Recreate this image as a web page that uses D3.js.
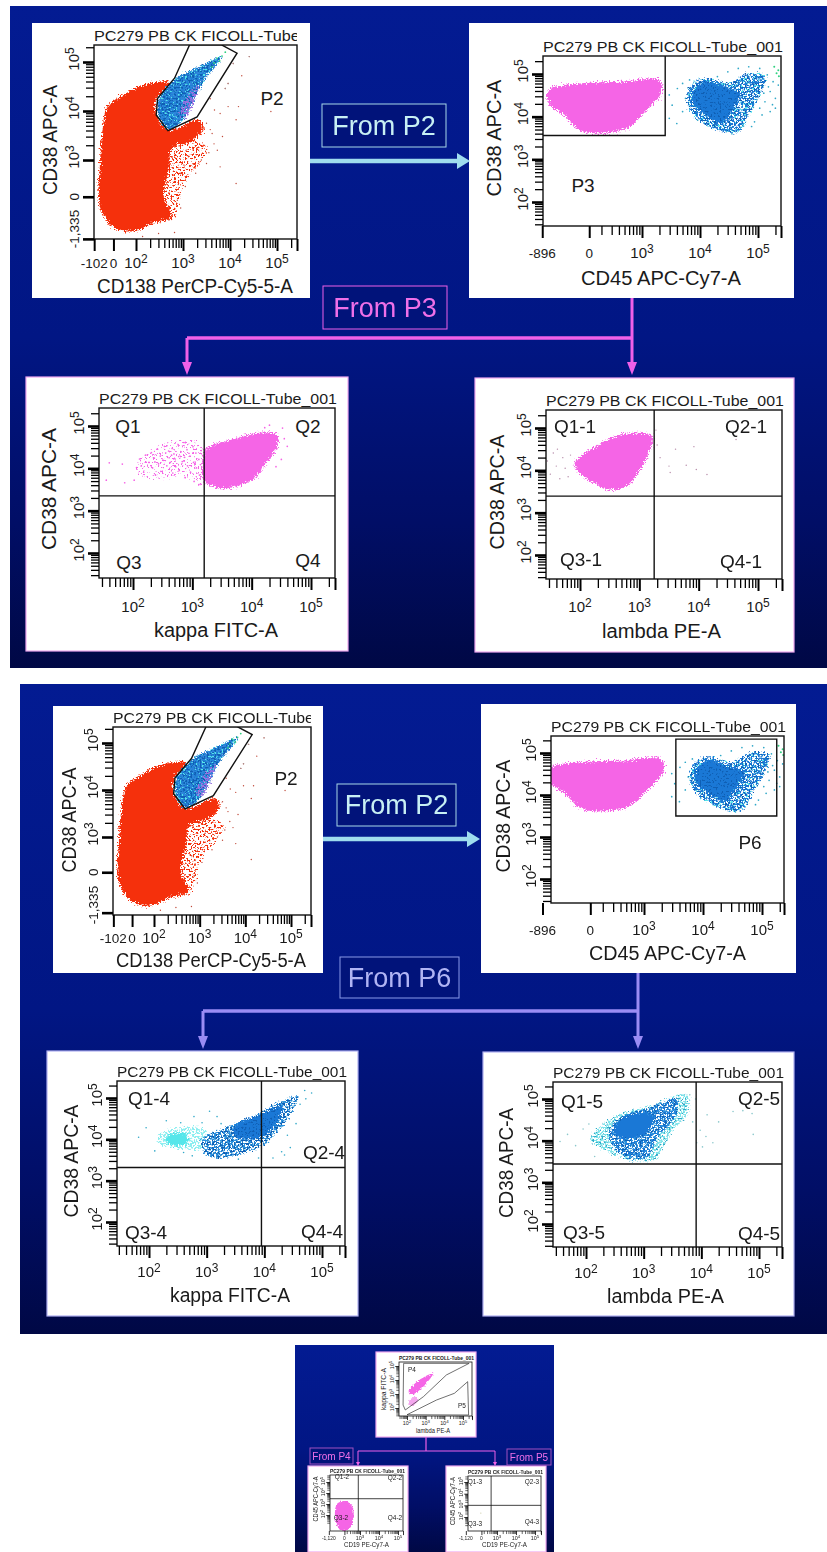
<!DOCTYPE html>
<html><head><meta charset="utf-8">
<script src="https://cdn.jsdelivr.net/npm/d3@7"></script>
<style>html,body{margin:0;padding:0;background:#fff;overflow:hidden}svg{display:block}text{font-family:"Liberation Sans",Arial,sans-serif;fill:#1a1a1a}</style>
</head><body><svg id="c" width="827" height="1552"></svg>
<script>
// ---- values; all in log10 decades of the axis value ----
const titleText = "PC279 PB CK FICOLL-Tube_001";
const decades = [2, 3, 4, 5];
const minorFactors = [2, 3, 4, 5, 6, 7, 8, 9];

const redCloud = [[1.74,4.33],[2.14,4.53],[2.71,4.58],[2.42,4.22],[2.48,3.82],[2.71,3.61],[3.33,3.82],[3.44,3.65],[3.16,3.37],[2.76,3.24],[2.71,2.86],[2.59,2.25],[2.76,1.84],[2.36,1.71],[1.91,1.54],[1.51,1.64],[1.23,2.05],[1.23,2.86],[1.28,3.54],[1.40,4.09]];
const redHaze = [[2.7,3.35],[3.2,3.40],[3.52,3.25],[3.35,2.92],[3.05,2.55],[2.90,2.05],[2.75,1.75],[2.50,2.40],[2.60,3.00]];
const p2Gate = [[3.14,5.35],[3.82,5.35],[4.15,5.18],[3.30,3.88],[2.68,3.60],[2.43,3.92],[2.46,4.26],[2.82,4.67]];
const p2Blue = [[3.82,5.11],[3.67,4.90],[3.44,4.63],[3.22,4.22],[2.99,3.82],[2.68,3.63],[2.48,3.92],[2.50,4.26],[2.82,4.63],[3.05,4.77],[3.44,4.94]];
const p2Purple = [[3.35,4.55],[3.28,4.30],[3.05,3.85],[2.92,3.95],[3.12,4.35]];
const p2Green = [[3.72,5.08],[3.83,5.12],[3.90,5.20],[3.78,5.02],[3.66,4.98],[3.62,4.90]];
const p2Sparse = [[4.07,4.97],[4.41,5.11],[3.96,4.56],[3.90,4.46],[4.87,3.99],[4.18,4.09],[3.96,4.09],[3.79,3.95],[3.67,4.02],[3.50,3.75],[3.62,3.54],[3.84,3.48],[3.73,3.20],[3.33,3.20],[3.39,3.00],[3.50,2.93],[3.79,2.86],[4.13,2.52],[3.27,2.73],[3.05,2.46],[2.88,2.18],[2.71,1.78],[2.48,1.50],[2.14,1.44],[4.25,4.72],[3.58,4.25],[4.13,3.82],[3.55,3.15],[3.12,3.08],[3.22,2.92],[2.95,2.72],[2.90,2.50],[3.58,3.62],[3.66,3.33],[3.02,2.90],[2.82,2.60],[2.95,2.02],[2.82,1.52]];
const pinkWide = [[1.42,4.66],[1.92,4.78],[2.65,4.82],[3.29,4.86],[3.34,4.59],[3.06,4.12],[2.74,3.73],[2.29,3.61],[1.92,3.69],[1.65,4.04],[1.42,4.27],[1.36,4.47]];
const cd45Halo = [[3.84,4.74],[4.11,4.90],[4.48,4.78],[4.84,5.02],[5.12,4.94],[5.03,4.51],[4.84,4.04],[4.66,3.65],[4.39,3.65],[4.02,3.88],[3.79,4.27]];
const cd45Core = [[3.90,4.62],[4.12,4.82],[4.46,4.68],[4.70,4.55],[4.55,4.15],[4.38,3.85],[4.10,4.05],[3.88,4.30]];
const cd45Sparse = [[3.47,4.51],[3.61,4.66],[3.52,4.27],[3.70,4.12],[3.47,3.96],[3.75,4.43],[3.70,4.78],[5.03,5.13],[5.16,4.98],[5.26,4.82],[5.07,4.74],[5.21,4.59],[5.30,4.43],[5.12,4.35],[5.03,4.20],[5.21,4.12],[4.94,3.88],[5.07,4.04],[4.66,5.13],[4.84,5.17],[4.48,5.05],[4.30,4.94],[5.30,4.20],[5.35,4.74],[4.89,3.77],[4.96,4.78],[5.18,4.70],[5.25,4.28],[4.98,4.40],[5.10,4.55],[4.92,4.22],[4.75,3.78],[4.55,3.60],[3.96,3.92],[3.60,3.84],[3.82,4.86]];
const cd45Green = [[5.28,5.17],[5.35,5.09],[5.32,5.02],[5.36,4.95]];
const kappaPink = [[3.22,4.45],[3.67,4.68],[4.12,4.84],[4.43,4.80],[4.43,4.52],[4.21,4.05],[4.03,3.74],[3.67,3.55],[3.40,3.55],[3.18,3.74],[3.18,4.13]];
const kappaHaze = [[2.05,4.05],[2.45,4.52],[3.10,4.62],[3.25,3.60],[2.85,3.78],[2.25,3.75]];
const kappaSparse = [[1.55,3.72],[1.60,4.13],[1.82,4.10],[1.86,3.66],[2.02,3.72],[2.06,4.02],[2.11,4.22],[2.14,4.06],[2.21,4.31],[2.18,3.91],[2.27,4.14],[2.31,4.37],[2.33,4.01],[2.36,4.24],[2.38,3.84],[2.41,4.46],[2.43,4.11],[2.46,4.29],[2.47,3.93],[2.51,4.19],[2.53,4.52],[2.55,4.36],[2.57,4.06],[2.60,4.41],[2.61,4.25],[2.63,4.14],[2.65,4.31],[2.66,4.47],[2.67,3.89],[2.69,4.34],[2.71,4.22],[2.72,4.04],[2.76,4.56],[2.77,4.28],[2.78,3.95],[2.81,4.39],[2.83,4.16],[2.86,4.61],[2.87,4.26],[2.88,3.78],[2.91,4.44],[2.92,4.06],[2.96,4.29],[2.97,3.91],[3.01,4.51],[3.02,4.14],[3.03,3.69],[3.06,4.36],[3.07,4.01],[3.11,4.21],[3.12,3.84],[3.13,3.62],[3.15,4.42],[3.16,4.03],[4.55,4.70],[4.60,4.52],[4.50,4.21],[4.41,4.04],[4.52,4.95],[4.22,4.96],[4.30,5.02]];
const lambdaPink = [[1.91,4.18],[2.27,4.57],[2.71,4.85],[3.21,4.81],[3.16,4.42],[2.98,3.94],[2.80,3.63],[2.49,3.54],[2.22,3.71],[1.96,3.98]];
const lambdaSparse = [[1.45,4.22],[1.50,3.91],[1.55,4.41],[1.60,4.10],[1.66,3.80],[1.71,4.30],[1.75,4.05],[1.80,3.85],[1.84,4.36],[1.62,4.50],[3.61,4.50],[3.92,4.56],[3.50,4.10],[3.79,4.12],[3.96,4.02],[4.14,3.90],[3.52,3.95],[4.63,4.73],[3.30,4.60],[3.35,4.30],[3.28,4.95]];
const kappaCyan = [[2.16,4.11],[2.53,4.27],[2.95,4.25],[3.05,3.80],[2.44,3.79],[2.16,3.91]];
const kappaCyanCore = [[2.33,4.08],[2.62,4.14],[2.68,3.93],[2.45,3.84],[2.30,3.94]];
const kappaBlue = [[2.91,3.99],[3.37,4.31],[3.84,4.56],[4.21,4.88],[4.59,5.04],[4.50,4.76],[4.31,4.31],[4.03,3.91],[3.75,3.71],[3.28,3.55],[3.00,3.63]];
const kappaCore = [[3.47,4.31],[3.93,4.60],[4.31,4.80],[4.21,4.40],[3.93,4.03],[3.51,4.07]];
const kappaBlueSparse = [[1.82,4.05],[1.95,4.28],[2.10,3.72],[2.30,4.45],[2.55,4.40],[2.78,4.55],[3.05,4.68],[2.92,4.40],[3.18,4.55],[3.25,4.38],[4.55,4.38],[4.70,5.18],[4.82,5.12],[4.40,4.10],[4.30,3.70],[4.15,3.55],[4.35,3.62],[4.45,3.80],[3.90,3.55],[3.55,3.52],[2.75,3.60],[2.60,3.68],[4.62,4.85],[4.72,4.98]];
const lambdaHalo = [[2.07,4.02],[2.50,4.59],[3.10,4.83],[3.76,5.11],[3.76,4.67],[3.48,4.19],[3.29,3.70],[3.20,3.54],[2.73,3.54],[2.36,3.74]];
const lambdaBlue = [[2.40,4.19],[2.64,4.59],[3.10,4.79],[3.57,4.99],[3.52,4.51],[3.24,4.10],[3.06,3.62],[2.78,3.58],[2.50,3.82]];
const lambdaCore = [[2.50,4.34],[2.79,4.63],[3.17,4.59],[3.12,4.34],[2.93,4.10],[2.55,4.10]];
const lambdaBlueSparse = [[1.55,3.98],[1.68,4.15],[1.82,3.88],[1.95,4.28],[2.05,4.40],[2.15,3.62],[3.98,4.25],[4.08,4.10],[4.20,3.95],[4.02,3.85],[4.30,4.45],[4.55,4.70],[4.72,4.72],[4.88,4.65],[4.90,4.15],[3.85,4.45],[3.92,3.95],[4.10,4.62],[3.80,5.10],[3.90,5.00]];
const g_kappaLambdaPink = [[2.09,3.17],[2.53,3.88],[3.40,4.48],[2.96,3.64],[2.44,3.05],[2.18,2.93]];
const g_kappaLambdaLower = [[2.14,2.57],[2.44,2.81],[2.61,2.57],[2.35,2.21],[2.09,2.21]];
const p4Gate = [[1.82,5.19],[5.33,5.19],[4.11,4.36],[2.88,2.81],[1.91,1.86],[1.79,2.21]];
const p5Gate = [[2.00,1.52],[3.58,2.57],[4.54,3.05],[5.25,3.88],[5.30,1.50]];
const cd19Pink = [[1.82,3.06],[2.18,3.27],[2.55,2.91],[2.67,1.85],[2.45,0.79],[2.00,0.58],[1.73,1.40],[1.69,2.45]];
const cd19Sparse = [[2.15,2.34],[2.15,1.63]];
const p3Gate = [[1.0,5.6],[3.40,5.6],[3.40,3.56],[1.0,3.56]];
const p6Gate = [[3.54,5.33],[5.25,5.33],[5.25,3.50],[3.54,3.50]];

const red="#f5300c",pink="#f565e6",blue="#1a78d6",blueD="#0f5fb4",teal="#30a8c8",cyan="#55e6ea",purple="#9a70e0",green="#30d080";

// ---- layout of the photographed slides ----
const big=[
 {card:[32,23,310,298],plot:[94,45,297,239],xu:[136,277],yu:[160,62],yu0:3,xl:["CD138 PerCP-Cy5-5-A",97,293,196],yl:["CD38 APC-A",50,140,110],xtickY:268,xSpecial:[[1.11,"-102"],[1.52,"0"]],ySpecial:[[2.25,"0"],[1.39,"-1,335"]],yDec:[3,4,5],xMinorFrom:2,yMinorFrom:3,kind:"p2",labels:[["P2",272,105]],clipTitle:true},
 {card:[469,23,794,298],plot:[543,56,781,226],xu:[642,758],yu:[202,74],yu0:2,xl:["CD45 APC-Cy7-A",581,285,160],yl:["CD38 APC-A",494,138,117],xtickY:258,xSpecial:[[1.28,"-896"],[2.09,"0"]],ySpecial:[],yDec:[2,3,4,5],xMinorFrom:2.1,yMinorFrom:1,xDec:[3,4,5],kind:"cd45",gate:p3Gate,labels:[["P3",583,192]],border:null},
 {card:[26,377,348,651],plot:[99,408,335,578],xu:[133,311],yu:[553,426],yu0:2,xl:["kappa FITC-A",154,637,124],yl:["CD38 APC-A",49,489,122],xtickY:612,xSpecial:[],ySpecial:[],yDec:[2,3,4,5],xMinorFrom:1,yMinorFrom:1,kind:"kappaPink",quad:[3.2,3.35],border:"#f0a8f0",labels:[["Q1",128,433],["Q2",308,433],["Q3",129,569],["Q4",308,567]]},
 {card:[475,378,794,652],plot:[546,410,782,579],xu:[580,758],yu:[555,428],yu0:2,xl:["lambda PE-A",602,638,119],yl:["CD38 APC-A",497,492,115],xtickY:612,xSpecial:[],ySpecial:[],yDec:[2,3,4,5],xMinorFrom:1,yMinorFrom:1,kind:"lambdaPink",quad:[3.25,3.39],border:"#f0a8f0",labels:[["Q1-1",575,433],["Q2-1",746,433],["Q3-1",581,566],["Q4-1",741,568]]},
 {card:[53,706,323,973],plot:[113,727,311,915],xu:[154,291],yu:[837,743],yu0:3,xl:["CD138 PerCP-Cy5-5-A",116,967,190],yl:["CD38 APC-A",69,820,105],xtickY:943,xSpecial:[[1.11,"-102"],[1.52,"0"]],ySpecial:[[2.25,"0"],[1.39,"-1,335"]],yDec:[3,4,5],xMinorFrom:2,yMinorFrom:3,kind:"p2",labels:[["P2",286,785]],clipTitle:true},
 {card:[481,704,796,973],plot:[551,736,784,903],xu:[644,762],yu:[879,753],yu0:2,xl:["CD45 APC-Cy7-A",589,960,157],yl:["CD38 APC-A",503,816,113],xtickY:935,xSpecial:[[1.28,"-896"],[2.09,"0"]],ySpecial:[],yDec:[2,3,4,5],xDec:[3,4,5],xMinorFrom:2.1,yMinorFrom:1,kind:"cd45",gate:p6Gate,labels:[["P6",750,849]]},
 {card:[47,1051,358,1316],plot:[117,1081,345,1246],xu:[149,322],yu:[1222,1098],yu0:2,xl:["kappa FITC-A",170,1302,120],yl:["CD38 APC-A",71,1161,113],xtickY:1277,xSpecial:[],ySpecial:[],yDec:[2,3,4,5],xMinorFrom:1,yMinorFrom:1,kind:"kappaBlue",quad:[3.95,3.32],border:"#b0b0f0",labels:[["Q1-4",149,1105],["Q2-4",324,1159],["Q3-4",146,1239],["Q4-4",322,1238]]},
 {card:[483,1052,794,1316],plot:[553,1082,782,1247],xu:[586,759],yu:[1224,1099],yu0:2,xl:["lambda PE-A",607,1303,117],yl:["CD38 APC-A",506,1163,110],xtickY:1278,xSpecial:[],ySpecial:[],yDec:[2,3,4,5],xMinorFrom:1,yMinorFrom:1,kind:"lambdaBlue",quad:[3.91,3.44],border:"#b0b0f0",labels:[["Q1-5",582,1108],["Q2-5",759,1105],["Q3-5",584,1239],["Q4-5",759,1240]]}
];
const small=[
 {card:[376,1352,476,1437],plot:[399,1362,472,1416],xu:[407,463],yu:[1408,1366],yu0:2,xl:["lambda PE-A",416,1433,34],yl:["kappa FITC-A",384,1389,42],xtickY:1425,xSpecial:[],ySpecial:[],yDec:[2,3,4,5],xMinorFrom:1,yMinorFrom:1,kind:"inset4",border:"#f0a8f0",s:.34,labels:[["P4",412,1372],["P5",462,1408]]},
 {card:[308,1466,408,1552],plot:[330,1475,403,1531],xu:[360,398],yu:[1515,1482],yu0:2,xl:["CD19 PE-Cy7-A",344,1547,45],yl:["CD45 APC-Cy7-A",316,1499,45],xtickY:1540,xSpecial:[[1.36,"-1,120"],[2.18,"0"]],ySpecial:[],yDec:[2,3,4,5],xDec:[3,4,5],xMinorFrom:2.2,yMinorFrom:1,kind:"cd19",quad:[2.91,3.48],border:"#f0a8f0",s:.34,labels:[["Q1-2",342,1479],["Q2-2",395,1480],["Q3-2",341,1520],["Q4-2",395,1520]]},
 {card:[446,1466,546,1552],plot:[468,1476,541,1531],xu:[497,535],yu:[1517,1482],yu0:2,xl:["CD19 PE-Cy7-A",482,1547,45],yl:["CD45 APC-Cy7-A",453,1501,48],xtickY:1540,xSpecial:[[1.36,"-1,120"],[2.18,"0"]],ySpecial:[],yDec:[2,3,4,5],xDec:[3,4,5],xMinorFrom:2.2,yMinorFrom:1,kind:"cd19Empty",quad:[2.69,3.0],border:"#f0a8f0",s:.34,labels:[["Q1-3",475,1484],["Q2-3",532,1484],["Q3-3",475,1526],["Q4-3",532,1524]]}
];

const svg=d3.select("#c");
const defs=svg.append("defs");
function grad(id,stops){const g=defs.append("linearGradient").attr("id",id).attr("x1",0).attr("y1",0).attr("x2",0).attr("y2",1);
 stops.forEach(([o,c])=>g.append("stop").attr("offset",o).attr("stop-color",c));}
grad("bg",[[0,"#031b92"],[.5,"#011684"],[.78,"#010e66"],[1,"#000845"]]);

// point-cloud look: roughened edge and a grain mask
function roughFilter(id,scale){
 const f=defs.append("filter").attr("id",id).attr("x","-15%").attr("y","-15%").attr("width","130%").attr("height","130%").attr("color-interpolation-filters","sRGB");
 f.append("feTurbulence").attr("type","fractalNoise").attr("baseFrequency",.75).attr("numOctaves",2).attr("seed",4).attr("result","n");
 f.append("feDisplacementMap").attr("in","SourceGraphic").attr("in2","n").attr("scale",scale).attr("xChannelSelector","R").attr("yChannelSelector","G");
}
function grainFilter(id,threshold,seed,scale){
 const f=defs.append("filter").attr("id",id).attr("x","-15%").attr("y","-15%").attr("width","130%").attr("height","130%").attr("color-interpolation-filters","sRGB");
 f.append("feTurbulence").attr("type","fractalNoise").attr("baseFrequency",.55).attr("numOctaves",1).attr("seed",seed).attr("result","n");
 f.append("feColorMatrix").attr("in","n").attr("type","matrix").attr("values",`0 0 0 0 0 0 0 0 0 0 0 0 0 0 0 14 0 0 0 ${-14*threshold}`).attr("result","m");
 f.append("feDisplacementMap").attr("in","SourceGraphic").attr("in2","n").attr("scale",scale).attr("xChannelSelector","G").attr("yChannelSelector","B").attr("result","d");
 f.append("feComposite").attr("in","d").attr("in2","m").attr("operator","in");
}
roughFilter("rough",9);roughFilter("roughS",3.5);
grainFilter("grainA",.47,7,8);grainFilter("grainB",.53,11,8);grainFilter("grainC",.58,15,10);

const main=svg.append("g").style("filter","blur(0.45px)");
const inset=svg.append("g").style("filter","blur(0.7px)");
main.append("rect").attr("x",10).attr("y",6).attr("width",817).attr("height",662).attr("fill","url(#bg)");
main.append("rect").attr("x",20).attr("y",684).attr("width",807).attr("height",650).attr("fill","url(#bg)");
inset.append("rect").attr("x",295).attr("y",1345).attr("width",259).attr("height",207).attr("fill","url(#bg)");

let uid=0;
function drawPanel(root,p){
 const s=p.s||1, id="clip"+(uid++);
 const [L,T,R,B]=p.plot;
 const g=root.append("g");
 g.append("rect").attr("x",p.card[0]).attr("y",p.card[1]).attr("width",p.card[2]-p.card[0]).attr("height",p.card[3]-p.card[1]).attr("fill","#fff").attr("stroke",p.border||"none").attr("stroke-width",1.2);
 const x=d3.scaleLinear().domain([p.xDec?3:2,5]).range(p.xu);
 const y=d3.scaleLinear().domain([p.yu0,5]).range(p.yu);
 defs.append("clipPath").attr("id",id).append("rect").attr("x",L).attr("y",T).attr("width",R-L).attr("height",B-T);
 const plot=g.append("g").attr("clip-path",`url(#${id})`);
 const curve=d3.line().x(d=>x(d[0])).y(d=>y(d[1])).curve(d3.curveCatmullRomClosed.alpha(.5));
 const sharp=d3.line().x(d=>x(d[0])).y(d=>y(d[1])).curve(d3.curveLinearClosed);
 const cloud=(pts,col)=>plot.append("path").attr("d",curve(pts)).attr("fill",col).attr("filter",`url(#${s<1?"roughS":"rough"})`);
 const grain=(pts,col,f)=>plot.append("path").attr("d",curve(pts)).attr("fill",col).attr("filter",`url(#${f})`);
 const dots=(pts,col,r=.75)=>plot.append("g").selectAll("circle").data(pts).join("circle").attr("cx",d=>x(d[0])).attr("cy",d=>y(d[1])).attr("r",r*(s<1?.6:1)).attr("fill",col);
 if(p.kind==="p2"){
  dots(p2Sparse,"#c04a3a",.7);
  grain(redHaze,red,"grainB");
  cloud(redCloud,red);
  plot.append("path").attr("d",sharp(p2Gate)).attr("fill","#fff");
  grain(p2Blue,cyan,"grainA");
  cloud(p2Blue,blue).attr("opacity",.9);
  grain(p2Blue,cyan,"grainC");
  grain(p2Blue,blueD,"grainB");
  grain(p2Purple,purple,"grainA");
  dots(p2Green,green,.9);
  dots(p2Sparse.slice(0,4),"#a89090",.7);
  plot.append("path").attr("d",sharp(p2Gate)).attr("fill","none").attr("stroke","#111").attr("stroke-width",1.4);
 }
 if(p.kind==="cd45"){
  cloud(pinkWide,pink);
  dots(cd45Sparse,teal,.85);
  grain(cd45Halo,cyan,"grainB");
  grain(cd45Halo,blue,"grainA");
  grain(cd45Halo,blueD,"grainC");
  cloud(cd45Core,blue);
  grain(cd45Core,blueD,"grainC");
  dots(cd45Green,green,1);
  plot.append("path").attr("d",sharp(p.gate)).attr("fill","none").attr("stroke","#111").attr("stroke-width",1.4);
 }
 if(p.kind==="kappaPink"){dots(kappaSparse,pink,.85);grain(kappaHaze,pink,"grainC");cloud(kappaPink,pink);}
 if(p.kind==="lambdaPink"){dots(lambdaSparse,"#b58aa8",.7);cloud(lambdaPink,pink);}
 if(p.kind==="kappaBlue"){
  dots(kappaBlueSparse,teal,.8);
  grain(kappaCyan,"#8ceef0","grainA");cloud(kappaCyanCore,cyan);
  grain(kappaBlue,cyan,"grainB");
  grain(kappaBlue,"#2a90dc","grainA");
  grain(kappaBlue,blueD,"grainB");
  cloud(kappaCore,blue);
  grain(kappaCore,blueD,"grainC");
 }
 if(p.kind==="lambdaBlue"){
  dots(lambdaBlueSparse,"#8cc8cc",.8);
  grain(lambdaHalo,"#7fe4ea","grainA");
  grain(lambdaHalo,teal,"grainC");
  grain(lambdaBlue,blue,"grainA");
  grain(lambdaBlue,"#2a90dc","grainB");
  grain(lambdaBlue,blueD,"grainC");
  cloud(lambdaCore,blue);
 }
 if(p.kind==="inset4"){
  cloud(g_kappaLambdaPink,pink);cloud(g_kappaLambdaLower,"#f4a6ee");
  plot.append("path").attr("d",sharp(p4Gate)).attr("fill","none").attr("stroke","#333").attr("stroke-width",.7);
  plot.append("path").attr("d",sharp(p5Gate)).attr("fill","none").attr("stroke","#333").attr("stroke-width",.7);
 }
 if(p.kind==="cd19") cloud(cd19Pink,pink);
 if(p.kind==="cd19Empty") dots(cd19Sparse,"#c8c8a0",1);

 // quadrant lines
 if(p.quad){
  g.append("line").attr("x1",x(p.quad[0])).attr("x2",x(p.quad[0])).attr("y1",T).attr("y2",B).attr("stroke","#111").attr("stroke-width",s<1?.8:1.4);
  g.append("line").attr("x1",L).attr("x2",R).attr("y1",y(p.quad[1])).attr("y2",y(p.quad[1])).attr("stroke","#111").attr("stroke-width",s<1?.8:1.4);
 }
 // frame
 g.append("rect").attr("x",L).attr("y",T).attr("width",R-L).attr("height",B-T).attr("fill","none").attr("stroke","#111").attr("stroke-width",s<1?.8:1.4);

 // axes: minor ticks and major ticks via d3 axes
 const xInv=x.invert(R), yInv=y.invert(T), xLo=x.invert(L), yLo=y.invert(B);
 const allDec=[0,1,2,3,4,5];
 const minors=(from,lo,hi)=>allDec.flatMap(d=>minorFactors.map(k=>d+Math.log10(k))).filter(u=>u>=from&&u>lo&&u<hi);
 const xDec=p.xDec||decades;
 const xMajor=xDec.concat(p.xSpecial.map(d=>d[0]),[xInv]);
 const yMajor=p.yDec.concat(p.ySpecial.map(d=>d[0]));
 const stylise=(sel,w)=>{sel.select(".domain").remove();sel.selectAll("line").attr("stroke","#000").attr("stroke-width",w);sel.selectAll("text").remove();};
 const axG=(tr)=>g.append("g").attr("transform",tr);
 axG(`translate(0,${B})`).call(d3.axisBottom(x).tickValues(minors(p.xMinorFrom,xLo,xInv)).tickSize(9*s).tickFormat(()=>"")).call(stylise,s<1?.6:1.3);
 axG(`translate(0,${B})`).call(d3.axisBottom(x).tickValues(xMajor).tickSize(12*s).tickFormat(()=>"")).call(stylise,s<1?.8:2);
 axG(`translate(${L},0)`).call(d3.axisLeft(y).tickValues(minors(p.yMinorFrom,yLo,yInv)).tickSize(8*s).tickFormat(()=>"")).call(stylise,s<1?.6:1.3);
 axG(`translate(${L},0)`).call(d3.axisLeft(y).tickValues(yMajor).tickSize(11*s).tickFormat(()=>"")).call(stylise,s<1?.8:2.6);

 const fTick=15*(s<1?.36:1), fSup=12*(s<1?.36:1), supDy=-5.5*(s<1?.36:1);
 function power(t,d){t.append("tspan").text("10");t.append("tspan").attr("dy",supDy).attr("font-size",fSup).text(d);}
 xDec.forEach(d=>{const t=g.append("text").attr("x",x(d)).attr("y",p.xtickY).attr("text-anchor","middle").attr("font-size",fTick);power(t,d);});
 p.xSpecial.forEach(([u,l])=>g.append("text").attr("x",x(u)).attr("y",p.xtickY).attr("text-anchor","middle").attr("font-size",fTick*.9).text(l));
 const yB=L-15*s;
 p.yDec.forEach(d=>{const t=g.append("text").attr("transform",`translate(${yB},${y(d)-3*s}) rotate(-90)`).attr("text-anchor","middle").attr("font-size",fTick);power(t,d);});
 p.ySpecial.forEach(([u,l])=>g.append("text").attr("transform",`translate(${yB},${l==="0"?y(u):B-10}) rotate(-90)`).attr("text-anchor","middle").attr("font-size",fTick*.9).text(l));

 // title
 const tid="t"+(uid++);
 defs.append("clipPath").attr("id",tid).append("rect").attr("x",L).attr("y",T-30*s).attr("width",R-L).attr("height",30*s);
 const tg=g.append("g");
 if(p.clipTitle) tg.attr("clip-path",`url(#${tid})`);
 tg.append("text").attr("x",L).attr("y",T-4*(s<1?.6:1)).attr("font-size",15*(s<1?.38:1)).attr("font-weight",s<1?"bold":"normal")
  .attr("textLength",(p.clipTitle?1.18:1)*(R-L+2)).attr("lengthAdjust","spacingAndGlyphs").text(titleText);
 // axis labels
 g.append("text").attr("x",p.xl[1]).attr("y",p.xl[2]).attr("font-size",20*(s<1?.34:1)).attr("textLength",p.xl[3]).attr("lengthAdjust","spacingAndGlyphs").text(p.xl[0]);
 g.append("text").attr("transform",`translate(${p.yl[1]+7*s},${p.yl[2]}) rotate(-90)`).attr("text-anchor","middle").attr("font-size",20*(s<1?.34:1)).attr("textLength",p.yl[3]).attr("lengthAdjust","spacingAndGlyphs").text(p.yl[0]);
 p.labels.forEach(([t,a,b])=>g.append("text").attr("x",a).attr("y",b).attr("text-anchor","middle").attr("font-size",19*(s<1?.34:1)).text(t));
}
big.forEach(p=>drawPanel(main,p));
small.forEach(p=>drawPanel(inset,p));

// connectors and "From" boxes
function poly(root,pts,col,w){root.append("path").attr("d",d3.line()(pts)).attr("fill","none").attr("stroke",col).attr("stroke-width",w);}
function head(root,x,y,dir,col,l,h){
 const pts=dir==="r"?[[x,y],[x-l,y-h],[x-l,y+h]]:[[x,y],[x-h,y-l],[x+h,y-l]];
 root.append("path").attr("d",d3.line()(pts)+"Z").attr("fill",col);
}
function box(root,b,txt,strokeC,textC,fs){
 root.append("rect").attr("x",b[0]).attr("y",b[1]).attr("width",b[2]-b[0]).attr("height",b[3]-b[1]).attr("fill","#01137a").attr("stroke",strokeC).attr("stroke-width",1);
 root.append("text").attr("x",(b[0]+b[2])/2).attr("y",(b[1]+b[3])/2+fs*.35).attr("text-anchor","middle").attr("font-size",fs).style("fill",textC).text(txt);
}
const ltBlue="#9fdcee",mag="#f060e8",lav="#9a8cf4";
poly(main,[[310,161],[458,161]],ltBlue,4.5);head(main,470,161,"r",ltBlue,13,8);
box(main,[322,104,446,147],"From P2","#a8d8e8","#c8f0f4",27);
poly(main,[[632,298],[632,363]],mag,3);poly(main,[[187,338],[632,338]],mag,3.5);poly(main,[[187,338],[187,363]],mag,3);
head(main,187,375,"d",mag,13,5);head(main,632,375,"d",mag,13,5);
box(main,[323,286,447,329],"From P3",mag,"#f070e8",27);
poly(main,[[323,839],[468,839]],ltBlue,4.5);head(main,480,839,"r",ltBlue,13,8);
box(main,[337,784,456,826],"From P2","#a8d8e8","#c8f0f4",27);
poly(main,[[638,973],[638,1037]],lav,3);poly(main,[[203,1011],[638,1011]],lav,3.5);poly(main,[[203,1011],[203,1037]],lav,3);
head(main,203,1049,"d",lav,13,5);head(main,638,1049,"d",lav,13,5);
box(main,[340,957,459,998],"From P6","#8a9ae8","#b0b4f4",27);
poly(inset,[[426,1437],[426,1451]],mag,1.2);poly(inset,[[358,1451],[495,1451]],mag,1.2);
poly(inset,[[358,1451],[358,1463]],mag,1);poly(inset,[[495,1451],[495,1463]],mag,1);
head(inset,358,1466,"d",mag,4,2);head(inset,495,1466,"d",mag,4,2);
box(inset,[310,1448,353,1464],"From P4","#a050c0","#f070e8",10);
box(inset,[507,1449,551,1465],"From P5","#a050c0","#f070e8",10);
</script></body></html>
